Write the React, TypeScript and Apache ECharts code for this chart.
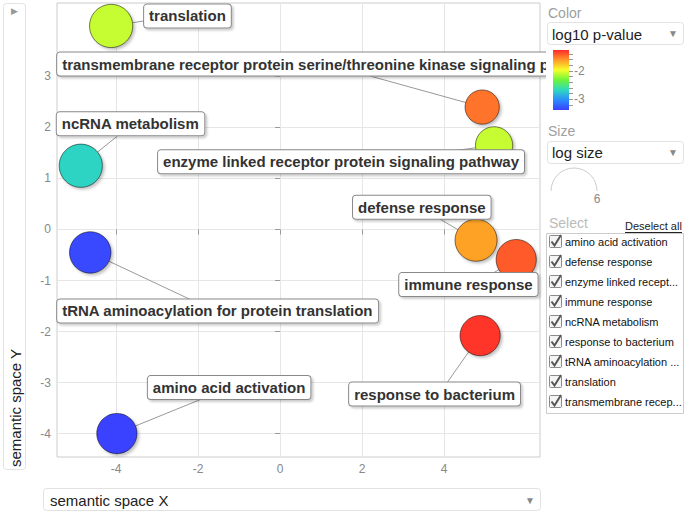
import React, { useEffect, useRef } from "react";
import * as echarts from "echarts";

const NAMES = [
  "translation",
  "transmembrane receptor protein serine/threonine kinase signaling pathway",
  "enzyme linked receptor protein signaling pathway",
  "ncRNA metabolism",
  "defense response",
  "immune response",
  "tRNA aminoacylation for protein translation",
  "response to bacterium",
  "amino acid activation",
];
const SEM_X = [-4.12, 4.93, 5.22, -4.86, 4.78, 5.76, -4.63, 4.88, -3.98];
const SEM_Y = [3.99, 2.4, 1.65, 1.25, -0.21, -0.59, -0.45, -2.08, -4.0];
const LOG_SIZE = [3.6, 2.85, 3.1, 3.6, 3.5, 3.35, 3.45, 3.35, 3.35];
const LOG_P = [-2.1, -1.5, -2.1, -2.7, -1.65, -1.42, -3.35, -1.3, -3.38];

const X_TICKS = [-4, -2, 0, 2, 4];
const Y_TICKS = [-4, -3, -2, -1, 0, 1, 2, 3];
const COLOR_TICKS = [-2, -3];
const COLOR_MIN = -3.39;
const COLOR_MAX = -1.27;
const COLOR_STOPS = ["#3b40ff", "#2a8cff", "#2ed8c0", "#6cf53a", "#f5ff2a", "#ff9a28", "#ff2a2a"];
const SIZE_MAX_LABEL = "6";

const SELECT_ITEMS = [
  "amino acid activation",
  "defense response",
  "enzyme linked recept...",
  "immune response",
  "ncRNA metabolism",
  "response to bacterium",
  "tRNA aminoacylation ...",
  "translation",
  "transmembrane recep...",
];

// label placement (layout, pixels): left edge offset and vertical centre offset from bubble centre
const LABEL_DX = [33, -425, -336, -24, -123, -117, -33, -131, 31];
const LABEL_DY = [-10, -43, 16.5, -42, -33, 25, 58.5, 58.5, -46];
// the long label is cut off by the side panel
const LABEL_WIDTH = [0, 492, 0, 0, 0, 0, 0, 0, 0];
// leader-line end on the label, relative to the bubble centre (layout, pixels)
const LINE_AX = [33, -112, -37, 37, -36, -24, 100, -33, 86];
const LINE_AY = [-5, -31, 5, -30, -21, 14, 47, 47, -35];

const FONT = "'Liberation Sans', Arial, sans-serif";

export default function App() {
  const ref = useRef<HTMLDivElement>(null);

  useEffect(() => {
    document.body.style.margin = "0";
    const chart = echarts.init(ref.current!, null, { renderer: "svg" });

    const data = NAMES.map((n, i) => {
      const item: any = { name: n, value: [SEM_X[i], SEM_Y[i], LOG_SIZE[i], LOG_P[i]] };
      if (LABEL_WIDTH[i]) {
        item.label = { width: LABEL_WIDTH[i], overflow: "truncate", ellipsis: "" };
      }
      return item;
    });
    const lineData = NAMES.map((_, i) => [SEM_X[i], SEM_Y[i], LOG_SIZE[i]]);

    const graphics: any[] = [];
    graphics.push({
      type: "rect", z: 100, shape: { x: 546, y: 0, width: 146, height: 512 },
      style: { fill: "#fff" },
    });
    const txt = (x: number, y: number, text: string, size: number, fill: string, extra: any = {}) => ({
      type: "text", z: 101, x, y,
      style: { text, fontSize: size, fill, fontFamily: FONT, verticalAlign: "middle", align: "left", ...extra },
    });
    const selBox = (x: number, y: number, w: number, h: number) => ({
      type: "rect", z: 101, shape: { x: x + 0.5, y: y + 0.5, width: w, height: h, r: 3 },
      style: { fill: "#fff", stroke: "#e2e2e2", lineWidth: 1 },
    });

    // Color
    graphics.push(txt(548, 13, "Color", 14, "#a0a0a0"));
    graphics.push(selBox(547, 22, 136, 22));
    graphics.push(txt(552, 34, "log10 p-value", 15, "#222"));
    graphics.push(txt(673, 33, "▼", 10, "#888", { align: "center" }));
    const barX = 553, barY = 50, barW = 16, barH = 60;
    graphics.push({
      type: "rect", z: 101, shape: { x: barX, y: barY, width: barW, height: barH },
      style: {
        fill: new echarts.graphic.LinearGradient(0, 0, 0, 1,
          COLOR_STOPS.slice().reverse().map((c, i) => ({ offset: i / (COLOR_STOPS.length - 1), color: c }))),
      },
    });
    const cy = (v: number) => barY + ((COLOR_MAX - v) / (COLOR_MAX - COLOR_MIN)) * barH;
    for (let k = 0; k <= 9; k++) {
      const v = -3.2 + k * 0.2;
      const yy = Math.round(cy(v)) + 0.5;
      graphics.push({
        type: "line", z: 101, shape: { x1: barX + barW, y1: yy, x2: barX + barW + 4, y2: yy },
        style: { stroke: "#999", lineWidth: 1 },
      });
    }
    COLOR_TICKS.forEach((v) => {
      graphics.push(txt(barX + barW + 5, cy(v) + 0.5, String(v), 12, "#888"));
    });

    // Size
    graphics.push(txt(548, 131, "Size", 14, "#a0a0a0"));
    graphics.push(selBox(547, 141, 136, 22));
    graphics.push(txt(552, 152, "log size", 15, "#222"));
    graphics.push(txt(673, 152, "▼", 10, "#888", { align: "center" }));
    graphics.push({
      type: "arc", z: 101, shape: { cx: 574, cy: 191, r: 23, startAngle: Math.PI, endAngle: 2 * Math.PI, clockwise: true },
      style: { stroke: "#ccc", lineWidth: 1, fill: "none" },
    });
    graphics.push(txt(597, 199, SIZE_MAX_LABEL, 12, "#888", { align: "center" }));

    // Select
    graphics.push(txt(549, 223, "Select", 14, "#bbb"));
    graphics.push(txt(625, 226, "Deselect all", 11, "#222"));
    graphics.push({
      type: "line", z: 101, shape: { x1: 625, y1: 232.5, x2: 682, y2: 232.5 },
      style: { stroke: "#222", lineWidth: 1 },
    });
    graphics.push({
      type: "rect", z: 101, shape: { x: 546.5, y: 233.5, width: 137, height: 180 },
      style: { fill: "#fff", stroke: "#ccc", lineWidth: 1 },
    });
    SELECT_ITEMS.forEach((s, i) => {
      const yc = 242 + i * 20;
      graphics.push({
        type: "rect", z: 102, shape: { x: 549.5, y: yc - 6.5, width: 12, height: 12, r: 1 },
        style: { fill: "#f4f4f4", stroke: "#8a8a8a", lineWidth: 1 },
      });
      graphics.push({
        type: "polyline", z: 103, shape: { points: [[551.5, yc - 0.5], [554.5, yc + 3.5], [561, yc - 7]] },
        style: { stroke: "#555", lineWidth: 2, fill: "none" },
      });
      graphics.push(txt(565, yc, s, 11, "#111"));
    });

    // Y axis title box
    graphics.push({
      type: "rect", z: 101, shape: { x: 3.5, y: 3.5, width: 22, height: 466, r: 3 },
      style: { fill: "#fff", stroke: "#e2e2e2", lineWidth: 1 },
    });
    graphics.push(txt(14, 11, "▶", 9, "#999", { align: "center" }));
    const yTitle: any = txt(15, 467, "semantic space Y", 15, "#222", { align: "left" });
    yTitle.rotation = Math.PI / 2;
    graphics.push(yTitle);

    // X axis title box
    graphics.push(selBox(43, 488, 497, 22));
    graphics.push(txt(50, 500, "semantic space X", 15, "#222"));
    graphics.push(txt(530, 500, "▼", 10, "#888", { align: "center" }));

    chart.setOption({
      animation: false,
      backgroundColor: "#fff",
      grid: { left: 57, top: 3, right: 152, bottom: 55, show: true, borderColor: "#ccc", borderWidth: 1 },
      xAxis: {
        type: "value", min: -5.44, max: 6.34,
        axisLine: { show: false },
        axisTick: { show: true, customValues: X_TICKS, length: 5, lineStyle: { color: "#999" } },
        axisLabel: { customValues: X_TICKS, color: "#888", fontSize: 12, fontFamily: FONT, margin: 6 },
        splitLine: { show: true, lineStyle: { color: "#e6e6e6" } },
      },
      yAxis: {
        type: "value", min: -4.46, max: 4.44,
        axisLine: { show: false },
        axisTick: { show: true, customValues: Y_TICKS, length: 5, lineStyle: { color: "#999" } },
        axisLabel: { customValues: Y_TICKS, color: "#888", fontSize: 12, fontFamily: FONT, margin: 6 },
        splitLine: { show: true, lineStyle: { color: "#e6e6e6" } },
      },
      visualMap: {
        show: false, type: "continuous", dimension: 3, seriesIndex: 0,
        min: COLOR_MIN, max: COLOR_MAX, inRange: { color: COLOR_STOPS },
      },
      series: [
        {
          type: "scatter",
          data,
          symbolSize: (v: number[]) => v[2] * 12,
          itemStyle: {
            borderColor: "rgba(0,0,0,0.5)", borderWidth: 1,
            shadowColor: "rgba(0,0,0,0.25)", shadowBlur: 3, shadowOffsetX: 2, shadowOffsetY: 2,
            opacity: 1,
          },
          label: {
            show: true, position: "inside", formatter: "{b}",
            fontSize: 15, fontWeight: "bold", color: "#333", fontFamily: FONT,
            backgroundColor: "#fff", borderColor: "#888", borderWidth: 1, borderRadius: 3,
            padding: [4, 5, 3, 5], lineHeight: 16,
            shadowColor: "rgba(0,0,0,0.2)", shadowBlur: 2, shadowOffsetX: 2, shadowOffsetY: 2,
          },
          labelLayout: (p: any) => {
            const i = p.dataIndex;
            const cx = p.rect.x + p.rect.width / 2;
            const cyy = p.rect.y + p.rect.height / 2;
            return { x: cx + LABEL_DX[i], y: cyy + LABEL_DY[i], align: "left", verticalAlign: "middle" };
          },
          emphasis: { disabled: true },
          z: 3,
        },
        {
          type: "custom",
          data: lineData,
          z: 2,
          silent: true,
          renderItem: (params: any, api: any) => {
            const i = params.dataIndex;
            const c = api.coord([api.value(0), api.value(1)]);
            const r = api.value(2) * 6;
            const ax = LINE_AX[i], ay = LINE_AY[i];
            const d = Math.sqrt(ax * ax + ay * ay) || 1;
            return {
              type: "line",
              shape: { x1: c[0] + (ax / d) * r, y1: c[1] + (ay / d) * r, x2: c[0] + ax, y2: c[1] + ay },
              style: { stroke: "#999", lineWidth: 1 },
            };
          },
        },
      ],
      graphic: graphics,
    });

    return () => chart.dispose();
  }, []);

  return <div ref={ref} style={{ width: 692, height: 512, position: "absolute", left: 0, top: 0 }} />;
}
